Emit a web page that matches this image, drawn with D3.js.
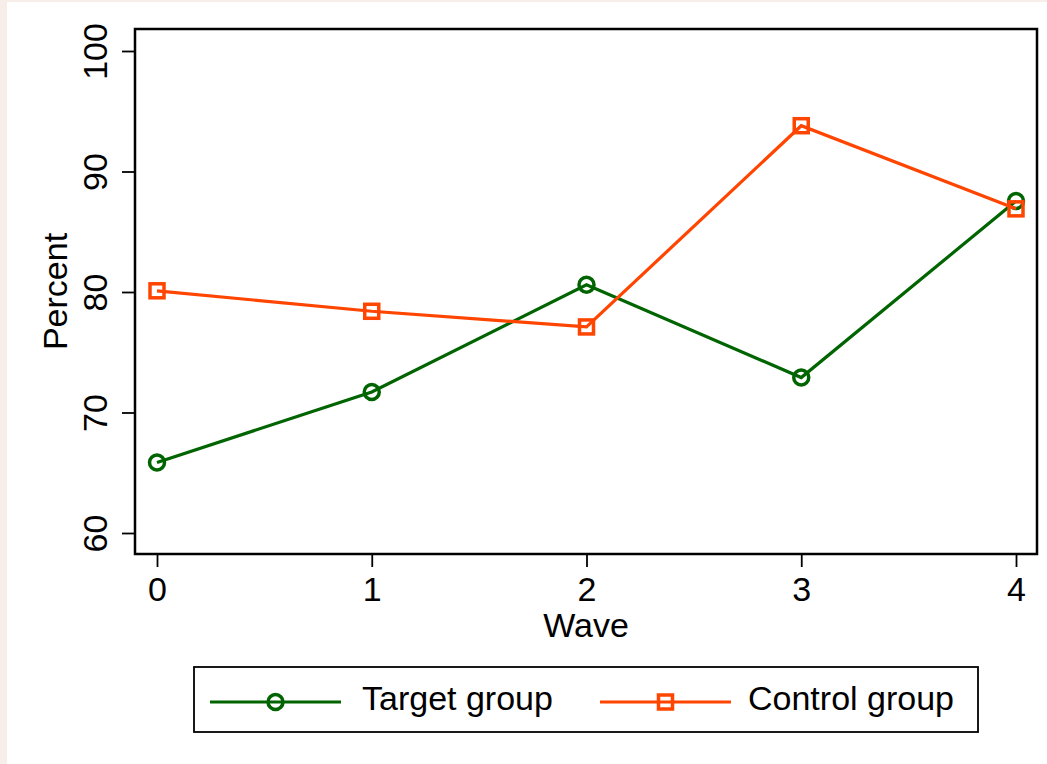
<!DOCTYPE html>
<html>
<head>
<meta charset="utf-8">
<script src="https://cdn.jsdelivr.net/npm/d3@7"></script>
<style>
  html, body { margin: 0; padding: 0; background: #fff; }
  svg { display: block; font-family: "Liberation Sans", Arial, sans-serif; }
</style>
</head>
<body>
<svg id="chart" width="1047" height="764"></svg>
<script>
// data
const waves = [0, 1, 2, 3, 4];
const targetGroup = [65.85, 71.7, 80.6, 72.9, 87.55];
const controlGroup = [80.1, 78.4, 77.1, 93.8, 86.9];
const yTicks = [60, 70, 80, 90, 100];
const seriesNames = ['Target group', 'Control group'];

const series = [
  { name: seriesNames[0], values: targetGroup, color: '#006400', shape: 'circle' },
  { name: seriesNames[1], values: controlGroup, color: '#ff4500', shape: 'square' }
];

const svg = d3.select('#chart');
const W = 1047, H = 764;
const box = { left: 135, right: 1037, top: 29, bottom: 554 };

// stata-ish outer background strip
svg.append('rect').attr('width', W).attr('height', H).attr('fill', '#f7eeea');
svg.append('rect').attr('x', 7).attr('y', 2).attr('width', W - 7).attr('height', H - 2).attr('fill', '#fff');

const x = d3.scaleLinear().domain([0, 4]).range([157, 1016]);
const y = d3.scaleLinear().domain([60, 100]).range([533, 51]);

const font = '34px';

// y axis
const yAxis = svg.append('g')
  .attr('transform', `translate(${box.left},0)`)
  .call(d3.axisLeft(y).tickValues(yTicks).tickSize(13));
yAxis.select('.domain').remove();
yAxis.selectAll('line').attr('stroke', '#000').attr('stroke-width', 1.8);
yAxis.selectAll('text')
  .attr('transform', 'rotate(-90)')
  .attr('x', 0).attr('y', -28).attr('dy', 0)
  .attr('text-anchor', 'middle')
  .attr('fill', '#000')
  .style('font-size', font)
  .style('font-family', '"Liberation Sans", Arial, sans-serif');

// x axis
const xAxis = svg.append('g')
  .attr('transform', `translate(0,${box.bottom})`)
  .call(d3.axisBottom(x).tickValues(waves).tickFormat(d3.format('d')).tickSize(13));
xAxis.select('.domain').remove();
xAxis.selectAll('line').attr('stroke', '#000').attr('stroke-width', 1.8);
xAxis.selectAll('text')
  .attr('y', 47).attr('dy', 0)
  .attr('fill', '#000')
  .style('font-size', font)
  .style('font-family', '"Liberation Sans", Arial, sans-serif');

// plot frame
svg.append('rect')
  .attr('x', box.left).attr('y', box.top)
  .attr('width', box.right - box.left).attr('height', box.bottom - box.top)
  .attr('fill', 'none').attr('stroke', '#000').attr('stroke-width', 2.5);

// axis titles
svg.append('text')
  .attr('transform', `translate(67,${(box.top + box.bottom) / 2}) rotate(-90)`)
  .attr('text-anchor', 'middle')
  .style('font-size', font)
  .text('Percent');

svg.append('text')
  .attr('x', (box.left + box.right) / 2).attr('y', 637)
  .attr('text-anchor', 'middle')
  .style('font-size', font)
  .text('Wave');

// lines + markers
const line = d3.line().x((d, i) => x(waves[i])).y(d => y(d));

function drawMarker(sel, s) {
  if (s.shape === 'circle') {
    sel.append('circle').attr('r', 7.5)
      .attr('fill', 'none').attr('stroke', s.color).attr('stroke-width', 3.5);
  } else {
    sel.append('rect').attr('x', -7).attr('y', -7).attr('width', 14).attr('height', 14)
      .attr('fill', 'none').attr('stroke', s.color).attr('stroke-width', 3.5);
  }
}

series.forEach(s => {
  svg.append('path')
    .datum(s.values)
    .attr('d', line)
    .attr('fill', 'none')
    .attr('stroke', s.color)
    .attr('stroke-width', 3.2);

  svg.selectAll(null)
    .data(s.values)
    .enter()
    .append('g')
    .attr('transform', (d, i) => `translate(${x(waves[i])},${y(d)})`)
    .each(function () { drawMarker(d3.select(this), s); });
});

// legend
svg.append('rect')
  .attr('x', 194).attr('y', 667).attr('width', 784).attr('height', 65)
  .attr('fill', '#fff').attr('stroke', '#000').attr('stroke-width', 1.8);

const legendX = d3.scaleOrdinal().domain(seriesNames).range([210, 600]);

const item = svg.selectAll('.legend-item')
  .data(series)
  .enter()
  .append('g')
  .attr('class', 'legend-item')
  .attr('transform', d => `translate(${legendX(d.name)},702)`);

item.append('line')
  .attr('x1', 0).attr('x2', 131)
  .attr('stroke', d => d.color).attr('stroke-width', 3.2);

item.append('g')
  .attr('transform', 'translate(65.5,0)')
  .each(function (d) { drawMarker(d3.select(this), d); });

item.append('text')
  .attr('x', (d, i) => i === 0 ? 152 : 148)
  .attr('y', 8)
  .style('font-size', font)
  .text(d => d.name);
</script>
</body>
</html>
